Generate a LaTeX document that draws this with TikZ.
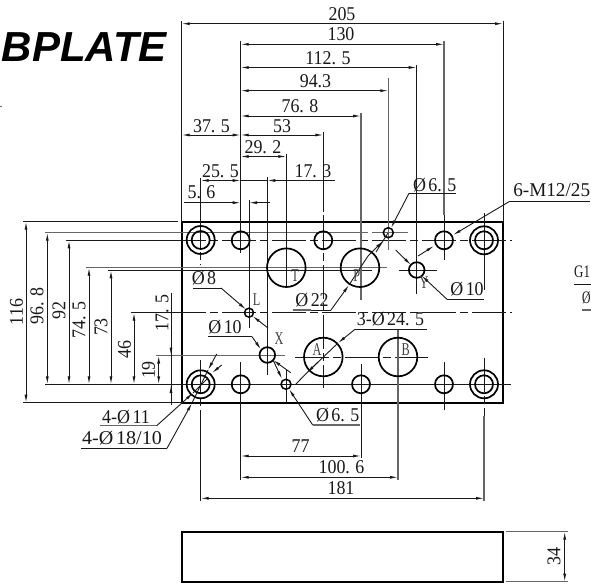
\documentclass[tikz,border=0pt]{standalone}
\usepackage{fontspec}
\usepackage{graphicx}
\setmainfont{Liberation Serif}
\newfontfamily\dimfont[FakeStretch=0.92]{Liberation Serif}
\newfontfamily\labfont[FakeStretch=0.68]{Liberation Serif}
\newfontfamily\titlefont{Liberation Sans}
\usetikzlibrary{arrows.meta}
\tikzset{
  x=1pt,y=-1pt,
  thin line/.style={line width=0.9pt,black!90},
  gray line/.style={line width=1.1pt,black!60},
  part/.style={line width=1.7pt,black},
  cline/.style={line width=0.9pt,black!90,dash pattern=on 34pt off 4pt on 8pt off 4pt},
  dimtip/.style={-{Latex[length=8pt,width=3pt]}},
  dimtips/.style={{Latex[length=8pt,width=3pt]}-{Latex[length=8pt,width=3pt]}},
  txt/.style={inner sep=0pt,font=\dimfont\fontsize{19.5}{20}\selectfont,text=black!90},
  lab/.style={inner sep=0pt,font=\labfont\fontsize{18}{18}\selectfont,text=black!75},
}
\newcommand{\dimkern}{\kern5.5pt}
\newcommand{\dia}{Ø\kern2.5pt}
\begin{document}
\begin{tikzpicture}
\useasboundingbox (0,0) rectangle (591,585);
\clip (0,0) rectangle (591,585);
% title
\node[anchor=base east,inner sep=0pt,font=\titlefont\fontsize{42}{42}\selectfont\bfseries\itshape] (title) at (167,62) {BPLATE};
\coordinate (mk) at (0,107);
\draw[line width=1pt,black!60] (mk) -- ++(1.5,0);
% plate
\draw[part] (181.7,221.7) rectangle (503,402.7);
\draw[part] (181.7,531.7) rectangle (503,581.7);
% horizontal centre and extension lines
\draw[cline] (172,240.3) -- (512,240.3);
\draw[thin line] (66,240.3) -- (172,240.3);
\draw[cline] (172,312.7) -- (512,312.7);
\draw[thin line] (131,312.7) -- (172,312.7);
\draw[thin line] (45,384.3) -- (511,384.3);
\draw[gray line] (45,232.7) -- (368,232.7);
\draw[gray line] (372,232.7) -- (408,232.7);
\draw[gray line] (86,267.7) -- (387,267.7);
\draw[thin line] (108,270.3) -- (372,270.3);
\draw[thin line] (399,270.3) -- (437,270.3);
\draw[gray line] (156,355.5) -- (285,355.5);
\draw[cline] (295,357) -- (428,357);
\draw[thin line] (23,221.7) -- (178,221.7);
\draw[thin line] (23,402.7) -- (182,402.7);
% vertical centre and extension lines
\draw[thin line] (181.7,21) -- (181.7,222);
\draw[thin line] (503,21) -- (503,222);
\draw[thin line] (200.7,178) -- (200.7,214);
\draw[cline] (200.7,214) -- (200.7,265);
\draw[cline] (200.7,360) -- (200.7,420);
\draw[thin line] (200.7,420) -- (200.7,501);
\draw[thin line] (484,213) -- (484,290);
\draw[cline] (484,358) -- (484,416);
\draw[gray line] (484,416) -- (484,501);
\draw[thin line] (240.7,41) -- (240.7,253);
\draw[thin line] (240.7,362) -- (240.7,480);
\draw[thin line] (249,200) -- (249,328);
\draw[thin line] (267.3,177) -- (267.3,375);
\draw[thin line] (286.3,154) -- (286.3,288);
\draw[thin line] (286.3,370) -- (286.3,402);
\draw[thin line] (323.3,132) -- (323.3,212);
\draw[cline] (323.3,215) -- (323.3,388);
\draw[gray line] (361,113) -- (361,300);
\draw[thin line] (361,364) -- (361,458);
\draw[gray line] (388.3,78) -- (388.3,250);
\draw[thin line] (416.7,65) -- (416.7,294);
\draw[gray line] (398,330) -- (398,480);
\draw[gray line] (444,41) -- (444,215);
\draw[thin line] (444,215) -- (444,260);
\draw[thin line] (444,362) -- (444,410);
\draw[gray line] (506,531.7) -- (568,531.7);
\draw[gray line] (506,581.7) -- (568,581.7);
% holes
\foreach \cx/\cy in {200.7/240,484/240.3,200.7/384.3,484/384.3}{
  \draw[part] (\cx,\cy) circle[radius=14];
  \draw[part] (\cx,\cy) circle[radius=9];
}
\foreach \cx/\cy in {240.7/240.3,323.3/240.3,444/240.3,240.7/384.3,361/384.3,444/384.3}{
  \draw[part] (\cx,\cy) circle[radius=9];
}
\foreach \cx/\cy in {286.3/267.7,360/267.7,323.3/357,398/357}{
  \draw[part] (\cx,\cy) circle[radius=19.3];
}
\draw[part,line width=1.5pt] (249,312.7) circle[radius=4.5];
\draw[part] (267.3,355) circle[radius=7.8];
\draw[part,line width=1.5pt] (286,384.3) circle[radius=5];
\draw[part,line width=1.5pt] (388.3,232.7) circle[radius=5];
\draw[part] (416.7,270) circle[radius=7.8];
% top dimensions
\draw[thin line,dimtips] (181.7,23.7) -- (503,23.7);
\node[txt] (d205) at (342,14) {205};
\draw[thin line,dimtips] (240.7,44.3) -- (444,44.3);
\node[txt] (d130) at (341,34.5) {130};
\draw[thin line,dimtips] (240.7,67.5) -- (416.7,67.5);
\node[txt] (d1125) at (328,58) {112.\dimkern 5};
\draw[thin line,dimtips] (240.7,90.7) -- (388.3,90.7);
\node[txt] (d943) at (315.5,81.5) {94.3};
\draw[thin line,dimtips] (240.7,116) -- (361,116);
\node[txt] (d768) at (300,106) {76.\dimkern 8};
\draw[thin line,dimtips] (240.7,135) -- (323.3,135);
\node[txt] (d53) at (282,126) {53};
\draw[thin line,dimtips] (181.7,135) -- (240.7,135);
\node[txt] (d375) at (211.5,126) {37.\dimkern 5};
\draw[thin line,dimtips] (240.7,156.5) -- (286.3,156.5);
\node[txt] (d292) at (263,147) {29.\dimkern 2};
\draw[thin line,dimtips] (200.7,180.5) -- (240.7,180.5);
\draw[thin line] (240.7,180.5) -- (267.3,180.5);
\node[txt] (d255) at (220.5,171) {25.\dimkern 5};
\draw[thin line,dimtip] (335,180.5) -- (267.3,180.5);
\node[txt] (d173) at (313,171) {17.\dimkern 3};
\draw[thin line,dimtip] (184,202.7) -- (240.7,202.7);
\draw[thin line,dimtip] (270,202.7) -- (249,202.7);
\node[txt] (d56) at (201.5,192) {5.\dimkern 6};
% left dimensions
\draw[thin line,dimtips] (26,221.7) -- (26,402.7);
\node[txt,rotate=90] (d116) at (16.5,312) {116};
\draw[thin line,dimtips] (47.3,232.7) -- (47.3,384.3);
\node[txt,rotate=90] (d968) at (37,306) {96.\dimkern 8};
\draw[thin line,dimtips] (69,240.3) -- (69,384.3);
\node[txt,rotate=90] (d92) at (59,310.7) {92};
\draw[thin line,dimtips] (89,267.7) -- (89,384.3);
\node[txt,rotate=90] (d745) at (79,320) {74.\dimkern 5};
\draw[thin line,dimtips] (111,270.3) -- (111,384.3);
\node[txt,rotate=90] (d73) at (101,327) {73};
\draw[thin line,dimtips] (134,312.7) -- (134,384.3);
\node[txt,rotate=90] (d46) at (124.5,349.5) {46};
\draw[thin line,dimtips] (158.7,355.5) -- (158.7,384.3);
\node[txt,rotate=90] (d19) at (148.5,370) {19};
\draw[thin line] (171,292.7) -- (171,405);
\draw[thin line,dimtip] (171,335) -- (171,355.5);
\draw[thin line,dimtip] (171,405) -- (171,385);
\node[txt,rotate=90] (d175) at (162,313) {17.\dimkern 5};
% bottom dimensions
\draw[thin line,dimtips] (240.7,456) -- (361,456);
\node[txt] (d77) at (300.5,446) {77};
\draw[thin line,dimtips] (240.7,477.3) -- (398,477.3);
\node[txt] (d1006) at (341.5,467.5) {100.\dimkern 6};
\draw[thin line,dimtips] (200.7,498.3) -- (484,498.3);
\node[txt] (d181) at (341,488) {181};
% height of side view
\draw[thin line,dimtips] (564.7,531.7) -- (564.7,581.7);
\node[txt,rotate=90] (d34) at (554,556.7) {34};
% leaders
\node[txt] (t65a) at (434.7,185) {\dia 6.\dimkern 5};
\draw[thin line] (456,193.3) -- (409,193.3);
\draw[thin line,dimtip] (409,193.3) -- (391,228);
\draw[thin line] (388,233) -- (376,252);
\node[txt] (t22) at (312,300.5) {\dia 22};
\draw[gray line] (293,310) -- (311,310);
\draw[thin line] (311,310) -- (331,310);
\draw[thin line,dimtip] (331,310) -- (349,285);
\draw[thin line] (349,285) -- (368,256);
\draw[thin line,dimtip] (368,256) -- (383,241);
\node[txt] (t8) at (204,278) {\dia 8};
\draw[thin line] (193,288) -- (221,288);
\draw[thin line,dimtip] (221,288) -- (246,309.5);
\draw[thin line,dimtip] (268,328) -- (252.5,316);
\node[lab] (tL) at (256.7,300) {L};
\node[txt] (t10a) at (225,326.7) {\dia 10};
\draw[thin line] (208,336.7) -- (252,336.7);
\draw[thin line,dimtip] (252,336.7) -- (261,349.5);
\draw[thin line,dimtip] (290.7,372.7) -- (273,360);
\node[lab] (tX) at (279,339) {X};
\node[txt] (t65b) at (337.7,415) {\dia 6.\dimkern 5};
\draw[gray line] (360,425) -- (312.7,425);
\draw[thin line,dimtip] (312.7,425) -- (289,389);
\draw[thin line,dimtip] (273,360) -- (282,379);
\node[txt] (t245) at (390.5,319) {3-\dia 24.\dimkern 5};
\draw[thin line] (427,329.3) -- (355,329.3);
\draw[thin line,dimtip] (355,329.3) -- (338,343);
\draw[thin line] (338,343) -- (306.7,373);
\draw[thin line,dimtip] (318,362) -- (306.7,373);
\draw[thin line] (306.7,373) -- (296,384);
\node[txt] (tM12) at (551.7,190) {\scalebox{1.07}[1]{6-M12/25}};
\draw[thin line] (590,201.7) -- (509,201.7);
\draw[thin line,dimtip] (509,201.7) -- (453,235);
\draw[thin line,dimtip] (418,256) -- (434,246);
\node[txt] (t10b) at (467,289) {\dia 10};
\draw[thin line] (484,299.3) -- (447,299.3);
\draw[thin line,dimtip] (447,299.3) -- (421.5,275.5);
\draw[thin line,dimtip] (395.7,250) -- (411,265);
\node[lab] (tY) at (424,283) {Y};
\node[lab] (tT) at (295,275.7) {T};
\node[lab] (tP) at (356.7,276) {P};
\node[lab] (tA) at (317,349.3) {A};
\node[lab] (tB) at (405.7,349.3) {B};
\node[txt,anchor=west] (tG) at (574,272) {\scalebox{.72}[.9]{G1}};
\draw[thin line] (574,284) -- (591,284);
\node[txt,anchor=west] (tD) at (582,298) {\scalebox{.65}[.9]{Ø}};
\draw[gray line] (582,310) -- (591,310);
\node[txt] (t11) at (126,416.7) {4-\dia 11};
\draw[gray line] (100,425.7) -- (156.7,425.7);
\draw[thin line,dimtip] (156.7,425.7) -- (193,393);
\draw[thin line] (193,393) -- (208,378);
\draw[thin line,dimtip] (221.7,365) -- (212,373);
\node[txt] (t18) at (122,437.7) {\scalebox{1.12}[1]{4-\dia 18/10}};
\draw[thin line] (81,448.3) -- (167,448.3);
\draw[thin line,dimtip] (167,448.3) -- (192,403);
\draw[thin line] (192,403) -- (208,370);
\draw[thin line,dimtip] (216.7,354) -- (208,370);
\end{tikzpicture}
\end{document}
